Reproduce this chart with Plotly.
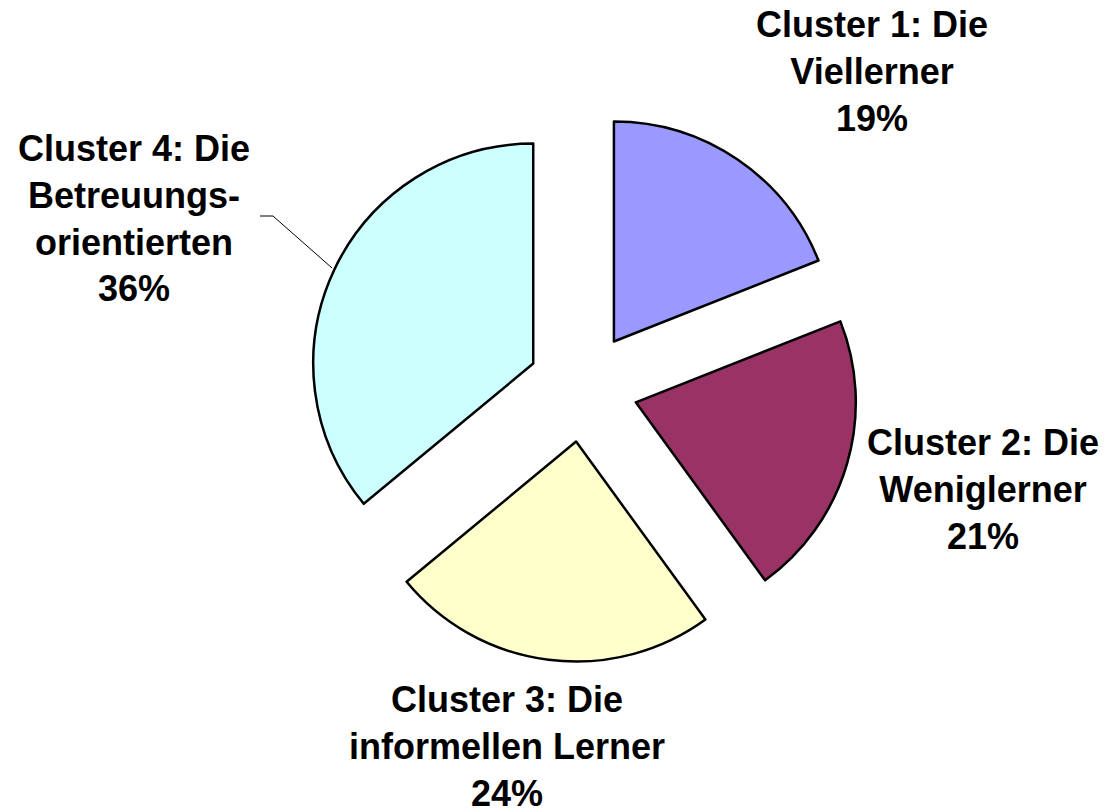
import plotly.graph_objects as go

W, H = 1108, 811
OFF = 8  # page body margin offset in the browser

# Data
categories = ["Cluster 1: Die<br>Viellerner",
              "Cluster 2: Die<br>Weniglerner",
              "Cluster 3: Die<br>informellen Lerner",
              "Cluster 4: Die<br>Betreuungs-<br>orientierten"]
values = [19, 21, 24, 36]
colors = ["#9999FF", "#993366", "#FFFFCC", "#CCFFFF"]

# Layout helpers (window pixel -> paper)
def px(x):
    return (x - OFF) / W

def py(y):
    return 1 - (y - OFF) / H

cx, cy, half = 583, 387, 275
label_pos = [(872, 72), (983, 490), (507, 746), (134, 218)]

total = sum(values)
fig = go.Figure(go.Pie(
    labels=categories,
    values=values,
    sort=False,
    direction="clockwise",
    rotation=0,
    pull=[0.25] * len(values),
    marker=dict(colors=colors, line=dict(color="black", width=2.5)),
    textinfo="none",
    hoverinfo="skip",
    showlegend=False,
    domain=dict(x=[px(cx - half), px(cx + half)], y=[py(cy + half), py(cy - half)]),
))

annotations = []
for lab, v, (lx, ly) in zip(categories, values, label_pos):
    annotations.append(dict(
        text=f"<b>{lab}<br>{round(100 * v / total)}%</b>",
        x=px(lx), y=py(ly), xref="paper", yref="paper",
        xanchor="center", yanchor="middle", showarrow=False,
        font=dict(family="Liberation Sans, Arial, sans-serif", size=36, color="black"),
        align="center",
    ))

fig.update_layout(
    width=W, height=H,
    margin=dict(l=0, r=0, t=0, b=0),
    paper_bgcolor="white",
    plot_bgcolor="white",
    annotations=annotations,
    shapes=[dict(type="path", xref="paper", yref="paper",
                 path=f"M {px(260)} {py(216)} L {px(273)} {py(216)} L {px(332)} {py(268)}",
                 line=dict(color="black", width=1))],
)

fig.write_html("out.html")
